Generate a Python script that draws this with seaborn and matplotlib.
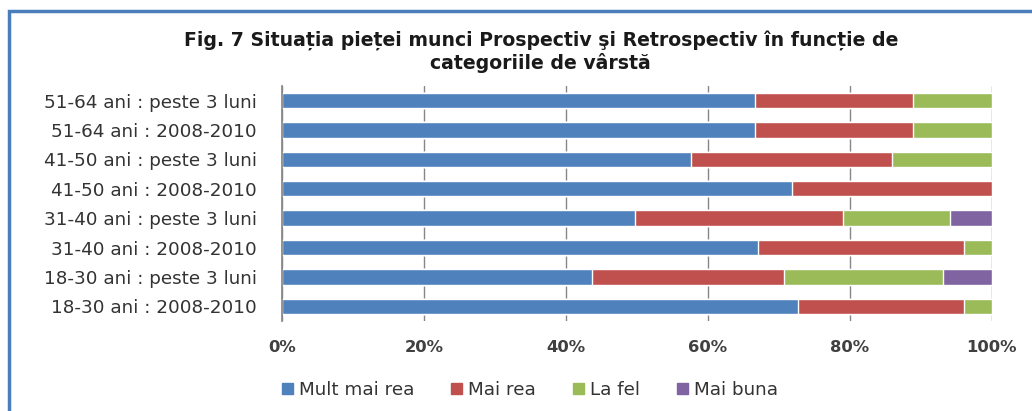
import matplotlib
matplotlib.use("Agg")
import matplotlib.pyplot as plt
import matplotlib.patches as mpatches
import numpy as np
import pandas as pd
import seaborn as sns

# date (procente)
categorii = ["51-64 ani : peste 3 luni", "51-64 ani : 2008-2010",
             "41-50 ani : peste 3 luni", "41-50 ani : 2008-2010",
             "31-40 ani : peste 3 luni", "31-40 ani : 2008-2010",
             "18-30 ani : peste 3 luni", "18-30 ani : 2008-2010"]
mult_mai_rea = [66.7, 66.7, 57.6, 71.8, 49.7, 67.1, 43.7, 72.7]
mai_rea = [22.2, 22.2, 28.3, 28.2, 29.3, 29.0, 27.1, 23.4]
la_fel = [11.1, 11.1, 14.1, 0.0, 15.1, 3.9, 22.3, 3.9]
mai_buna = [0.0, 0.0, 0.0, 0.0, 5.9, 0.0, 6.9, 0.0]
serii = ["Mult mai rea", "Mai rea", "La fel", "Mai buna"]
culori = ["#4F81BD", "#C0504D", "#9BBB59", "#8064A2"]
x_ticks = [0, 20, 40, 60, 80, 100]

sns.set_theme(style="white")
plt.rcParams["font.family"] = ["DejaVu Sans"]

df = pd.DataFrame({"categorie": categorii, "Mult mai rea": mult_mai_rea,
                   "Mai rea": mai_rea, "La fel": la_fel, "Mai buna": mai_buna})
cum = df[serii].cumsum(axis=1)

fig = plt.figure(figsize=(10.32, 4.11), dpi=100)
ax = fig.add_axes([282 / 1032, 1 - 321 / 411, (991.7 - 282) / 1032, (321 - 85.8) / 411])

# stacked: draw cumulative totals from the largest down
for s, c in reversed(list(zip(serii, culori))):
    sns.barplot(data=cum.assign(categorie=df["categorie"]), x=s, y="categorie",
                color=c, width=0.53, saturation=1, ax=ax, zorder=3)

ax.set_xlim(0, 100)
ax.set_xticks(x_ticks)
ax.set_xticklabels([f"{t}%" for t in x_ticks], fontsize=11.8, fontweight="bold",
                   color="#404040")
ax.tick_params(axis="x", pad=14, length=0)
ax.tick_params(axis="y", length=0, pad=18, labelsize=13.2, labelcolor="#333333")
ax.set_xlabel("")
ax.set_ylabel("")
ax.grid(axis="x", color="#868686", linewidth=1, linestyle="-", zorder=0)
for sp in ["top", "right", "bottom"]:
    ax.spines[sp].set_visible(False)
ax.spines["left"].set_color("#868686")
ax.spines["left"].set_zorder(5)

fig.text(0.524, 1 - 40 / 411, "Fig. 7 Situația pieței munci Prospectiv şi Retrospectiv în funcție de",
         ha="center", va="center", fontsize=13.6, fontweight="bold", color="#1a1a1a")
fig.text(0.524, 1 - 63 / 411, "categoriile de vârstă",
         ha="center", va="center", fontsize=13.6, fontweight="bold", color="#1a1a1a")

handles = [mpatches.Patch(color=c, label=s) for s, c in zip(serii, culori)]
fig.legend(handles=handles, loc="center", bbox_to_anchor=(530 / 1032, 1 - 390 / 411),
           ncol=4, frameon=False, fontsize=13.2, handlelength=0.6, handleheight=0.6,
           handletextpad=0.35, columnspacing=2.0, labelcolor="#333333")

# blue frame around the chart (cut by the image edges)
fig.patches.append(mpatches.Rectangle((9 / 1032, -0.1), 1.2, (411 - 11) / 411 + 0.1,
                                      transform=fig.transFigure, fill=False,
                                      edgecolor="#4A7EBB", linewidth=2.5))

fig.savefig("out.png", dpi=100, facecolor="white")
